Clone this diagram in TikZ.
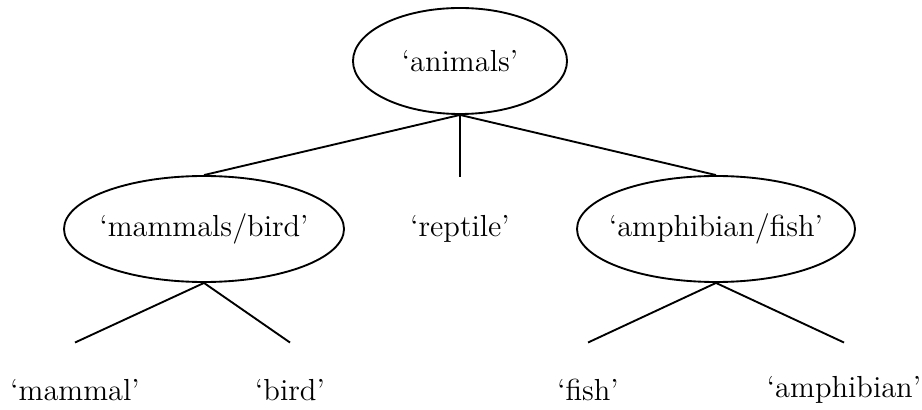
\documentclass[tikz,border=0pt]{standalone}
\usetikzlibrary{shapes.geometric}
\tikzset{
    cls/.style={ellipse, draw, thick, inner ysep=0pt, inner xsep=-4pt, minimum height=1.59cm},
    leaf/.style={inner sep=0pt, minimum height=1.41cm}
}
\begin{document}
\begin{tikzpicture}[x=0.015cm, y=-0.015cm, font=\fontsize{13}{16}\selectfont]
        \useasboundingbox (0,0) rectangle (922,410);

        \node (animals) at (460,61) [cls, minimum width=3.21cm] {`animals'};
        \node (mb) at (204,229) [cls, minimum width=4.2cm] {`mammals/bird'};
        \node (reptile) at (460,229) [leaf, minimum height=1.56cm] {`reptile'};
        \node (af) at (716,229) [cls, minimum width=4.17cm] {`amphibian/fish'};

        \node (mammal) at (75,390) [leaf] {`mammal'};
        \node (bird) at (290,390) [leaf] {`bird'};
        \node (fish) at (588,390) [leaf] {`fish'};
        \node (amphibian) at (844,390) [leaf] {`amphibian'};

        \draw[thick] (animals.south) -- (mb.north);
        \draw[thick] (animals.south) -- (reptile.north);
        \draw[thick] (animals.south) -- (af.north);
        \draw[thick] (mb.south) -- (mammal.north);
        \draw[thick] (mb.south) -- (bird.north);
        \draw[thick] (af.south) -- (fish.north);
        \draw[thick] (af.south) -- (amphibian.north);
        \end{tikzpicture}
\end{document}
